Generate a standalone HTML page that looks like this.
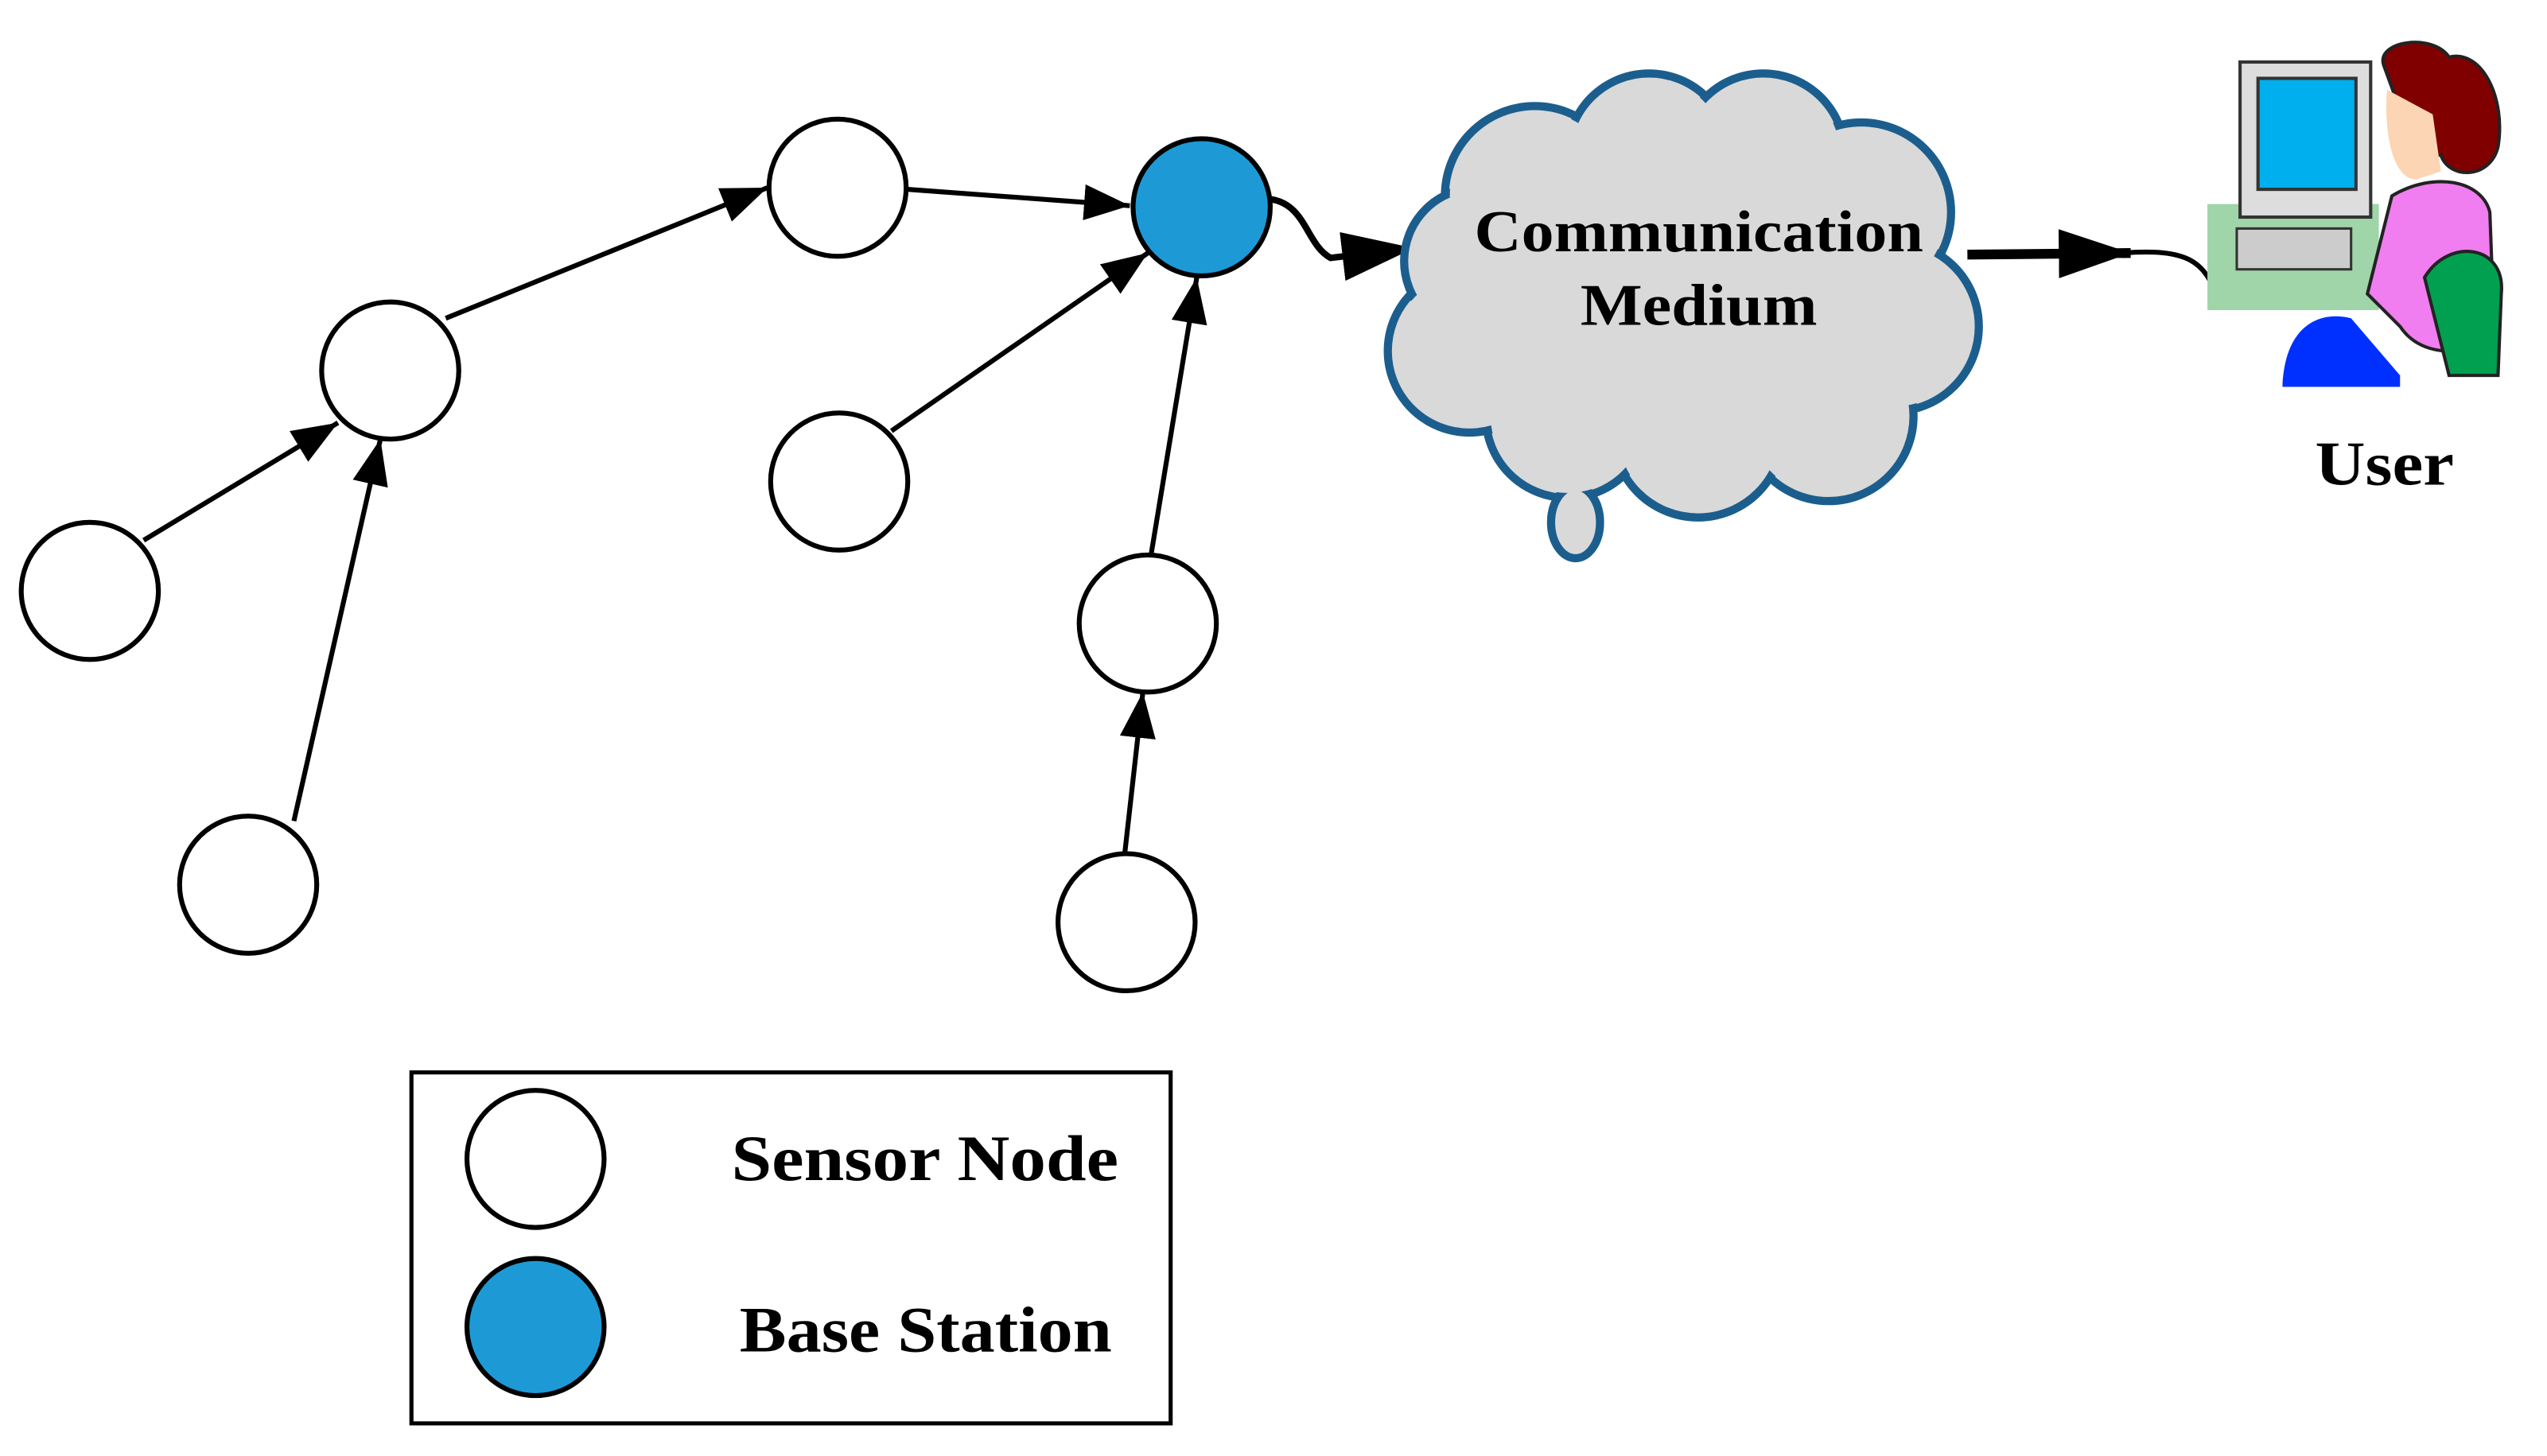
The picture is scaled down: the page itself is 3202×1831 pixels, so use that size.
<!DOCTYPE html>
<html><head><meta charset="utf-8"><style>html,body{margin:0;padding:0;background:#fff}svg{display:block}</style></head>
<body>
<svg width="3202" height="1831" viewBox="0 0 1560 892" preserveAspectRatio="none" xmlns="http://www.w3.org/2000/svg">
<defs>
<marker id="ah" viewBox="0 0 10 10" refX="10" refY="5" markerWidth="28" markerHeight="22" markerUnits="userSpaceOnUse" orient="auto" preserveAspectRatio="none"><path d="M0,0 L10,5 L0,10 z" fill="#000"/></marker>
<marker id="ah2" viewBox="0 0 10 10" refX="10" refY="5" markerWidth="44" markerHeight="30" markerUnits="userSpaceOnUse" orient="auto" preserveAspectRatio="none"><path d="M0,0 L10,5 L0,10 z" fill="#000"/></marker>
</defs>
<g stroke="#000" stroke-width="3" fill="none">
<line x1="88" y1="331" x2="207" y2="259" marker-end="url(#ah)"/>
<line x1="180" y1="503" x2="233" y2="269" marker-end="url(#ah)"/>
<line x1="273" y1="195" x2="470" y2="115" marker-end="url(#ah)"/>
<line x1="556" y1="116" x2="692" y2="126" marker-end="url(#ah)"/>
<line x1="546" y1="264" x2="703" y2="155" marker-end="url(#ah)"/>
<line x1="705" y1="340" x2="733" y2="170" marker-end="url(#ah)"/>
<line x1="689" y1="522" x2="700" y2="424" marker-end="url(#ah)"/>
<path d="M778,122 C800,125 800,150 815,158 L866,152" stroke-width="4" marker-end="url(#ah2)"/>
<path d="M1205,156 L1305,155" stroke-width="6" marker-end="url(#ah2)"/>
<path d="M1300,155 C1340,152 1350,160 1358,182 C1365,190 1375,175 1378,170" stroke-width="3"/>
</g>
<g stroke="#000" stroke-width="3" fill="#fff">
<circle cx="55" cy="362" r="42"/><circle cx="152" cy="542" r="42"/><circle cx="239" cy="227" r="42"/>
<circle cx="513" cy="115" r="42"/><circle cx="514" cy="295" r="42"/><circle cx="703" cy="382" r="42"/>
<circle cx="690" cy="565" r="42"/><circle cx="736" cy="127" r="42" fill="#1d9ad6"/>
</g>
<g>
<g fill="#d9d9d9" stroke="#1b5e8e" stroke-width="5">
<circle cx="940" cy="120" r="55"/><circle cx="1010" cy="95" r="50"/><circle cx="1080" cy="95" r="50"/>
<circle cx="1140" cy="130" r="55"/><circle cx="1160" cy="200" r="52"/><circle cx="1120" cy="255" r="52"/>
<circle cx="1040" cy="265" r="52"/><circle cx="960" cy="255" r="50"/><circle cx="900" cy="215" r="50"/>
<circle cx="905" cy="160" r="45"/>
<ellipse cx="965" cy="320" rx="15" ry="22"/>
</g>
<g fill="#d9d9d9">
<circle cx="940" cy="120" r="52"/><circle cx="1010" cy="95" r="47"/><circle cx="1080" cy="95" r="47"/>
<circle cx="1140" cy="130" r="52"/><circle cx="1160" cy="200" r="49"/><circle cx="1120" cy="255" r="49"/>
<circle cx="1040" cy="265" r="49"/><circle cx="960" cy="255" r="47"/><circle cx="900" cy="215" r="47"/>
<circle cx="905" cy="160" r="42"/><rect x="920" y="110" width="220" height="160"/>
</g>
</g>
<g font-family="'Liberation Serif',serif" font-weight="bold" fill="#000">
<text x="903" y="154" font-size="36" textLength="275" lengthAdjust="spacingAndGlyphs">Communication</text>
<text x="968" y="199" font-size="36" textLength="145" lengthAdjust="spacingAndGlyphs">Medium</text>
<text x="1418" y="297" font-size="38" textLength="85" lengthAdjust="spacingAndGlyphs">User</text>
<text x="448" y="723" font-size="40" textLength="237" lengthAdjust="spacingAndGlyphs">Sensor Node</text>
<text x="453" y="828" font-size="40" textLength="228" lengthAdjust="spacingAndGlyphs">Base Station</text>
</g>
<g>
<rect x="1352" y="125" width="105" height="65" fill="#9fd5a8"/>
<rect x="1372" y="38" width="80" height="95" fill="#ddd" stroke="#333" stroke-width="2"/>
<rect x="1383" y="48" width="60" height="68" fill="#00b0ee" stroke="#333" stroke-width="2"/>
<rect x="1370" y="140" width="70" height="25" fill="#ccc" stroke="#333" stroke-width="1.5"/>
<path d="M1460,40 C1455,25 1490,20 1500,35 C1520,30 1535,60 1530,90 C1525,110 1500,110 1495,95 L1480,95 Z" fill="#800000" stroke="#222" stroke-width="2"/>
<path d="M1462,55 C1460,80 1465,110 1480,110 L1495,105 L1490,70 Z" fill="#fcd5b5"/>
<path d="M1465,120 C1490,105 1520,110 1525,130 L1528,210 C1500,220 1480,215 1470,200 L1450,180 Z" fill="#f07ef0" stroke="#222" stroke-width="2"/>
<path d="M1485,170 C1500,145 1535,150 1532,180 L1530,230 L1500,230 Z" fill="#00a050" stroke="#222" stroke-width="2"/>
<path d="M1398,235 C1400,200 1420,190 1440,195 L1470,230 L1470,237 L1398,237 Z" fill="#0030ff"/>
</g>
<rect x="252" y="657" width="465" height="215" fill="none" stroke="#000" stroke-width="2.5"/>
<circle cx="328" cy="710" r="42" fill="#fff" stroke="#000" stroke-width="3"/>
<circle cx="328" cy="813" r="42" fill="#1d9ad6" stroke="#000" stroke-width="3"/>
</svg>
</body></html>
